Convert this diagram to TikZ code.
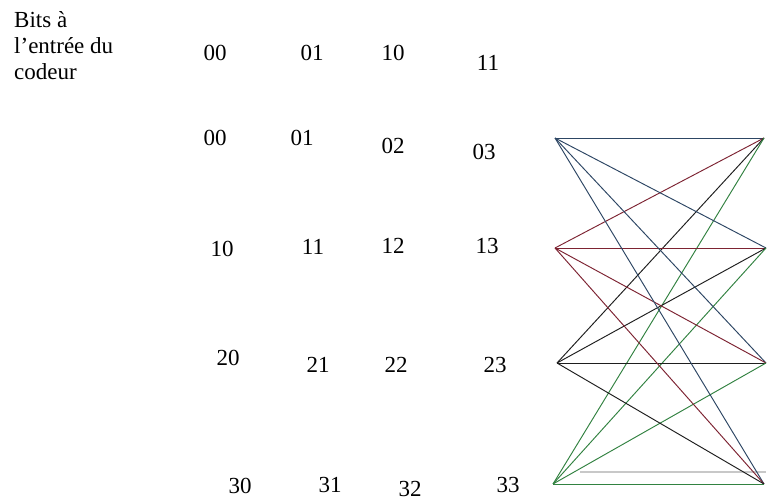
\documentclass[tikz,border=0pt]{standalone}
\usepackage{fontspec}
\setmainfont{Liberation Serif}
\begin{document}
\begin{tikzpicture}[x=1pt,y=-1pt,
  lbl/.style={inner sep=0pt, font=\fontsize{23}{26}\selectfont},
  e1/.style={draw=c1, line width=0.95pt},
  e2/.style={draw=c2, line width=0.95pt},
  e3/.style={draw=c3, line width=0.95pt},
  e4/.style={draw=c4, line width=0.95pt}]
\definecolor{c1}{RGB}{45,70,100}
\definecolor{c2}{RGB}{125,35,50}
\definecolor{c3}{RGB}{30,30,30}
\definecolor{c4}{RGB}{50,130,65}
\definecolor{cg}{RGB}{200,200,200}
\useasboundingbox (0,0) rectangle (768,502);
\fill[white] (0,0) rectangle (768,502);
% title
\node[lbl, anchor=north west, align=left] (title) at (14,11) {Bits à\\l’entrée du\\codeur};
% header
\node[lbl] (h00) at (215,53) {00};
\node[lbl] (h01) at (312,53) {01};
\node[lbl] (h10) at (393,53) {10};
\node[lbl] (h11) at (488,63) {11};
% grid
\node[lbl] (n00) at (215,138) {00};
\node[lbl] (n01) at (302,138) {01};
\node[lbl] (n02) at (393,146) {02};
\node[lbl] (n03) at (484,152) {03};
\node[lbl] (n10) at (222,249) {10};
\node[lbl] (n11) at (313,247) {11};
\node[lbl] (n12) at (393,246) {12};
\node[lbl] (n13) at (487,246) {13};
\node[lbl] (n20) at (228,358) {20};
\node[lbl] (n21) at (318,365) {21};
\node[lbl] (n22) at (396,365) {22};
\node[lbl] (n23) at (495,365) {23};
\node[lbl] (n30) at (240,486) {30};
\node[lbl] (n31) at (330,485) {31};
\node[lbl] (n32) at (410,489) {32};
\node[lbl] (n33) at (508,485) {33};
% trellis nodes
\coordinate (L1) at (555,138);
\coordinate (L2) at (555,248);
\coordinate (L3) at (557,363);
\coordinate (L4) at (553,484);
\coordinate (R1) at (764,138);
\coordinate (R2) at (766,248);
\coordinate (R3) at (766,363);
\coordinate (R4) at (764,484);
\coordinate (G1) at (580,472);
\coordinate (G2) at (766,472);
\draw[cg, line width=1.2pt] (G1) -- (G2);
\foreach \r in {1,2,3,4}{
  \draw[e1] (L1) -- (R\r);
  \draw[e2] (L2) -- (R\r);
  \draw[e3] (L3) -- (R\r);
  \draw[e4] (L4) -- (R\r);
}
\end{tikzpicture}
\end{document}
